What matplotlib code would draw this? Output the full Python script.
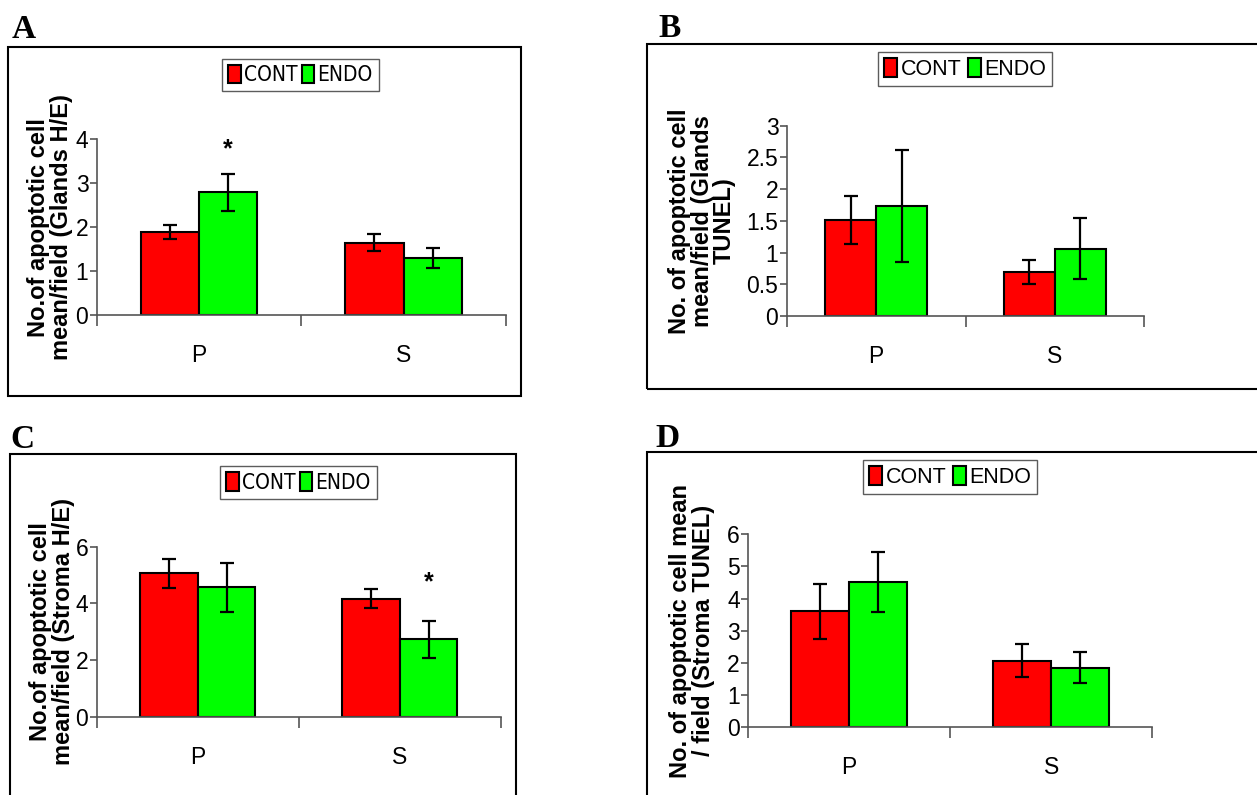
import numpy as np
import matplotlib.pyplot as plt
from matplotlib.patches import Rectangle

categories = ["P", "S"]
series = ["CONT", "ENDO"]
colors = ["#FF0000", "#00FF00"]

# panel A: glands H/E
a_cont = [1.90, 1.65]
a_cont_err = [0.16, 0.20]
a_endo = [2.79, 1.29]
a_endo_err = [0.43, 0.23]

# panel B: glands TUNEL
b_cont = [1.51, 0.70]
b_cont_err = [0.38, 0.19]
b_endo = [1.73, 1.06]
b_endo_err = [0.88, 0.48]

# panel C: stroma H/E
c_cont = [5.06, 4.17]
c_cont_err = [0.50, 0.33]
c_endo = [4.57, 2.73]
c_endo_err = [0.86, 0.65]

# panel D: stroma TUNEL
d_cont = [3.60, 2.07]
d_cont_err = [0.86, 0.51]
d_endo = [4.52, 1.84]
d_endo_err = [0.94, 0.48]

W, H = 1257, 795
fig = plt.figure(figsize=(W / 100, H / 100), dpi=100)
plt.rcParams['font.family'] = ['Liberation Sans', 'DejaVu Sans']


def fx(px):
    return px / W


def fy(py):
    return 1 - py / H


panels = [
    dict(letter="A", cont=a_cont, ce=a_cont_err, endo=a_endo, ee=a_endo_err,
         ax=(96.7, 139.3, 506, 315), ymax=4, step=1,
         frame=(8, 47, 521, 396), lab=(12, 38), leg=(300.5, 75), narrow=True,
         ylabel="No.of apoptotic cell\nmean/field (Glands H/E)", ylx=50,
         star=[None, None, (0, 0.55)]),
    dict(letter="B", cont=b_cont, ce=b_cont_err, endo=b_endo, ee=b_endo_err,
         ax=(786.7, 125.7, 1144.3, 316), ymax=3, step=0.5,
         frame=(647, 44, 1262, 389), lab=(658, 37), leg=(965, 69), narrow=False,
         ylabel="No. of apoptotic cell\nmean/field (Glands\nTUNEL)", ylx=702,
         star=None),
    dict(letter="C", cont=c_cont, ce=c_cont_err, endo=c_endo, ee=c_endo_err,
         ax=(96.7, 546.7, 500.7, 716.7), ymax=6, step=2,
         frame=(10, 454, 516, 805), lab=(10, 448), leg=(298.5, 482.5), narrow=True,
         ylabel="No.of apoptotic cell\nmean/field (Stroma H/E)", ylx=52,
         star=[None, None, (1, 1.35)]),
    dict(letter="D", cont=d_cont, ce=d_cont_err, endo=d_endo, ee=d_endo_err,
         ax=(748, 534.3, 1152.3, 727), ymax=6, step=1,
         frame=(647, 452, 1262, 805), lab=(655, 447), leg=(950, 477), narrow=False,
         ylabel="No. of apoptotic cell mean\n/ field (Stroma TUNEL)", ylx=692,
         star=None),
]

w = 1 / 3.5
x = np.arange(len(categories))

for p in panels:
    x0, y0, x1, y1 = p["frame"]
    fig.add_artist(Rectangle((fx(x0), fy(y1)), fx(x1 - x0), (y1 - y0) / H,
                             transform=fig.transFigure, fill=False,
                             edgecolor="black", linewidth=1.5))
    fig.text(fx(p["lab"][0]), fy(p["lab"][1]), p["letter"], family="Liberation Serif",
             fontweight="bold", fontsize=24, ha="left", va="baseline")

    l, t, r, b = p["ax"]
    ax = fig.add_axes([fx(l), fy(b), fx(r - l), (b - t) / H])
    ax.bar(x - w / 2, p["cont"], w, color=colors[0], edgecolor="black",
           linewidth=1.5, label=series[0], zorder=2)
    ax.bar(x + w / 2, p["endo"], w, color=colors[1], edgecolor="black",
           linewidth=1.5, label=series[1], zorder=2)
    ax.errorbar(x - w / 2, p["cont"], yerr=p["ce"], fmt="none", ecolor="black",
                elinewidth=1.6, capsize=5, capthick=1.6, zorder=3)
    ax.errorbar(x + w / 2, p["endo"], yerr=p["ee"], fmt="none", ecolor="black",
                elinewidth=1.6, capsize=5, capthick=1.6, zorder=3)

    if p["star"]:
        i, pad = p["star"][2]
        ax.text(x[i] + w / 2, p["endo"][i] + p["ee"][i] + pad, "*",
                ha="center", va="center", fontsize=18, fontweight="bold")

    ax.set_xlim(-0.5, 1.5)
    ax.set_ylim(0, p["ymax"])
    ticks = np.arange(0, p["ymax"] + p["step"] / 2, p["step"])
    ax.set_yticks(ticks)
    ax.set_yticklabels(["{:g}".format(v) for v in ticks])
    ax.set_xticks(x)
    ax.set_xticklabels(categories)
    ax.set_xticks([-0.5, 0.5, 1.5], minor=True)
    ax.tick_params(axis="x", which="major", length=0, pad=21, labelsize=16.5)
    ax.tick_params(axis="x", which="minor", length=8, width=1.2, color="#555555")
    ax.tick_params(axis="y", length=5, width=1.2, pad=1, labelsize=16.5,
                   color="#555555")
    for s in ["top", "right"]:
        ax.spines[s].set_visible(False)
    for s in ["left", "bottom"]:
        ax.spines[s].set_color("#555555")
        ax.spines[s].set_linewidth(1.2)

    fig.text(fx(p["ylx"]), fy((t + b) / 2), p["ylabel"], rotation=90,
             ha="center", va="center", multialignment="center",
             fontweight="bold", fontsize=17, linespacing=0.95)

    if p["narrow"]:
        leg_font = dict(family="DejaVu Sans", stretch="condensed", size=15)
        cs = 0.2
    else:
        leg_font = dict(size=15.5)
        cs = 0.3
    leg = ax.legend(loc="center", bbox_to_anchor=(fx(p["leg"][0]), fy(p["leg"][1])),
                    bbox_transform=fig.transFigure, ncol=2, prop=leg_font,
                    frameon=True, fancybox=False, edgecolor="#333333",
                    handlelength=0.6, handleheight=1.0, handletextpad=0.15,
                    columnspacing=cs, borderpad=0.3, borderaxespad=0)
    leg.get_frame().set_linewidth(1.0)

plt.savefig("out.png", dpi=100)
